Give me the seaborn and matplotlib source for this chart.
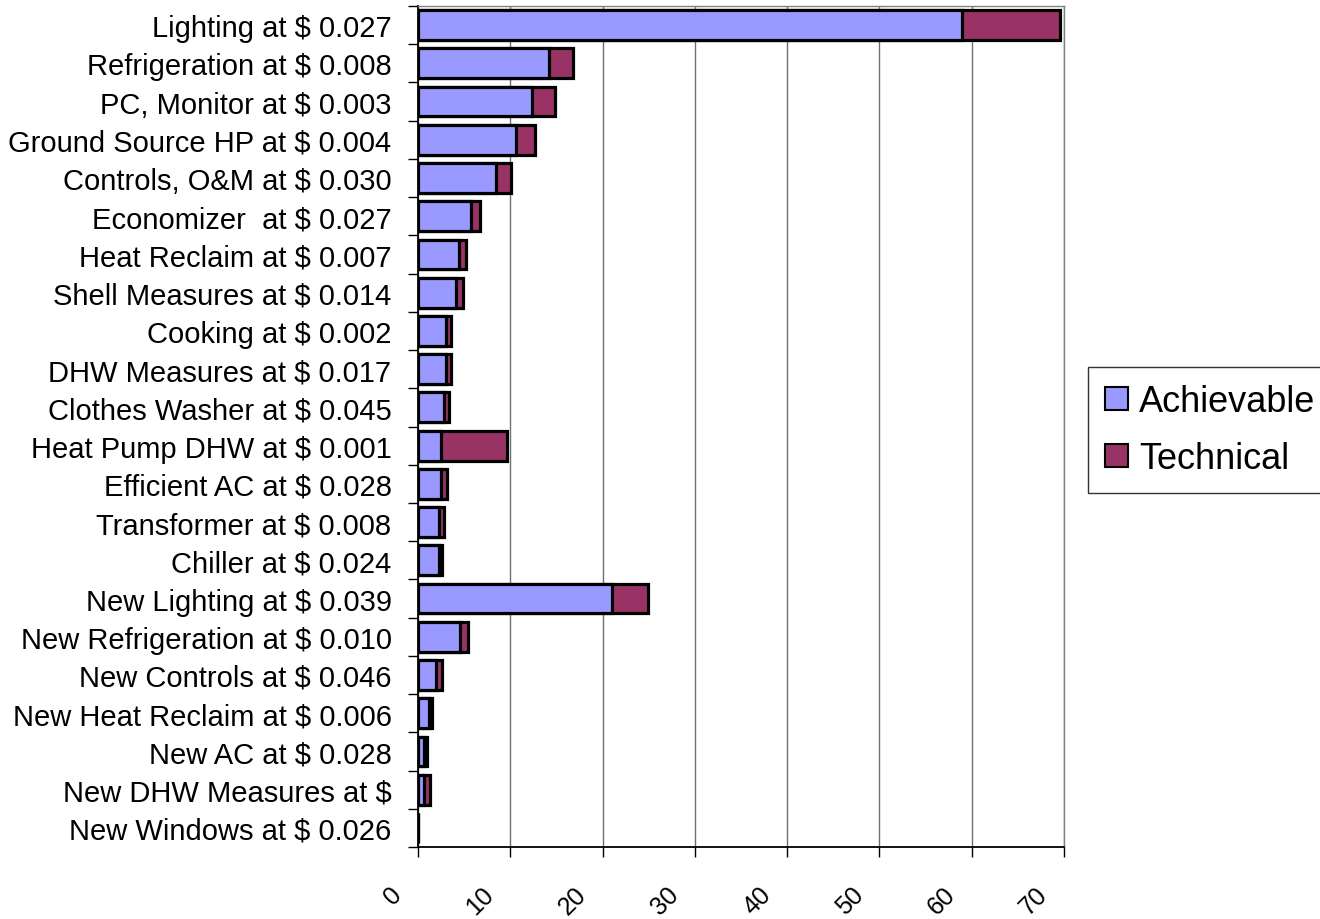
import matplotlib
matplotlib.use("Agg")
import matplotlib.pyplot as plt
import matplotlib.transforms as mtransforms
from matplotlib.patches import Patch
import seaborn as sns
import pandas as pd
import numpy as np

categories = [
    "Lighting at $ 0.027", "Refrigeration at $ 0.008", "PC, Monitor at $ 0.003",
    "Ground Source HP at $ 0.004", "Controls, O&M at $ 0.030", "Economizer  at $ 0.027",
    "Heat Reclaim at $ 0.007", "Shell Measures at $ 0.014", "Cooking at $ 0.002",
    "DHW Measures at $ 0.017", "Clothes Washer at $ 0.045", "Heat Pump DHW at $ 0.001",
    "Efficient AC at $ 0.028", "Transformer at $ 0.008", "Chiller at $ 0.024",
    "New Lighting at $ 0.039", "New Refrigeration at $ 0.010", "New Controls at $ 0.046",
    "New Heat Reclaim at $ 0.006", "New AC at $ 0.028", "New DHW Measures at $",
    "New Windows at $ 0.026",
]
achievable = [59.0, 14.2, 12.4, 10.6, 8.5, 5.7, 4.4, 4.1, 3.0, 3.0, 2.8, 2.5,
              2.5, 2.3, 2.3, 21.0, 4.6, 1.95, 1.2, 0.65, 0.7, 0.0]
technical = [10.6, 2.6, 2.4, 2.1, 1.55, 1.0, 0.8, 0.8, 0.6, 0.6, 0.6, 7.1,
             0.6, 0.55, 0.3, 3.9, 0.85, 0.65, 0.35, 0.35, 0.6, 0.0]
x_ticks = [0, 10, 20, 30, 40, 50, 60, 70]

C_ACH = "#9999FF"
C_TECH = "#993366"

df = pd.DataFrame({"cat": categories, "ach": achievable, "tech": technical})
df["total"] = df["ach"] + df["tech"]

sns.set_theme(style="white")
plt.rcParams["font.family"] = ["Liberation Sans", "DejaVu Sans"]

fig = plt.figure(figsize=(13.2, 9.2), dpi=100)
ax = fig.add_axes([418 / 1320, 1 - 848 / 920, (1064 - 418) / 1320, (848 - 7) / 920])

sns.barplot(data=df, y="cat", x="total", orient="h", color=C_TECH, saturation=1,
            width=0.78, edgecolor="black", linewidth=2.3, ax=ax, zorder=2)
sns.barplot(data=df, y="cat", x="ach", orient="h", color=C_ACH, saturation=1,
            width=0.78, edgecolor="black", linewidth=2.3, ax=ax, zorder=3)

n = len(categories)
ax.set_xlim(0, 70)
ax.set_ylim(n - 0.5, -0.5)
ax.set_xlabel("")
ax.set_ylabel("")

ax.set_xticks(x_ticks)
ax.set_xticklabels([str(v) for v in x_ticks], fontsize=18, rotation=45,
                   ha="right", va="center", rotation_mode="anchor", color="black")
ax.tick_params(axis="x", bottom=True, direction="out", length=7, width=1, color="black", pad=24)
off = mtransforms.ScaledTranslation(-0.20, 0.0, fig.dpi_scale_trans)
for lab in ax.get_xticklabels():
    lab.set_transform(lab.get_transform() + off)

ax.set_yticks(np.arange(-0.5, n, 1.0))
ax.set_yticklabels([])
ax.set_yticks(np.arange(n), minor=True)
ax.set_yticklabels(categories, minor=True, fontsize=21, color="black")
ax.tick_params(axis="y", which="major", left=True, direction="out", length=7, width=1, color="black")
ax.tick_params(axis="y", which="minor", left=True, length=0, pad=19)

ax.grid(axis="x", color="#707070", linewidth=1, zorder=0)
ax.grid(axis="y", visible=False)
ax.set_axisbelow(True)

for s in ["left", "bottom"]:
    ax.spines[s].set_color("black")
    ax.spines[s].set_linewidth(1.3)
for s in ["top", "right"]:
    ax.spines[s].set_color("#808080")
    ax.spines[s].set_linewidth(1)

handles = [Patch(facecolor=C_ACH, edgecolor="black", linewidth=1.5, label="Achievable"),
           Patch(facecolor=C_TECH, edgecolor="black", linewidth=1.5, label="Technical")]
leg = fig.legend(handles=handles, loc="upper left", bbox_to_anchor=(1088 / 1320, 1 - 368 / 920),
                 fontsize=26, frameon=True, fancybox=False, edgecolor="black",
                 handlelength=0.62, handleheight=0.62, handletextpad=0.32,
                 borderpad=0.48, labelspacing=0.6, borderaxespad=0)
leg.get_frame().set_linewidth(1)
for t in leg.get_texts():
    t.set_color("black")

fig.savefig("out.png", dpi=100, facecolor="white")
